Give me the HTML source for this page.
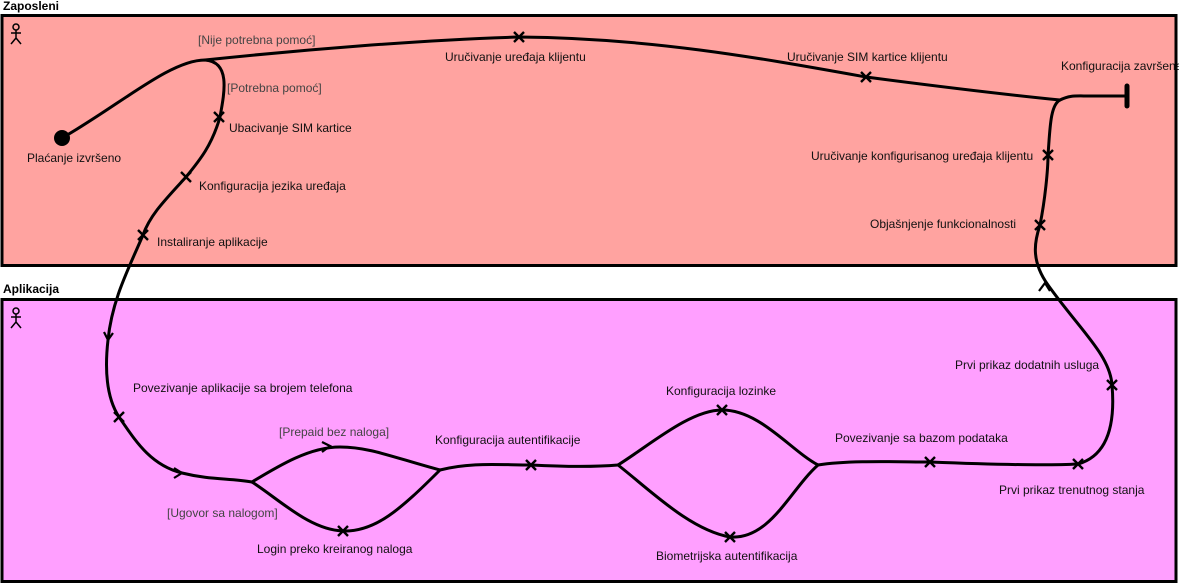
<!DOCTYPE html>
<html><head><meta charset="utf-8"><style>
html,body{margin:0;padding:0;background:#fff;}
svg{display:block;}
text{font-family:"Liberation Sans",sans-serif;font-size:12px;fill:#111;}
.g{fill:#444;}
.t{font-weight:bold;font-size:12px;fill:#000;}
</style></head><body>
<svg width="1179" height="585" viewBox="0 0 1179 585" xmlns="http://www.w3.org/2000/svg">
<text class="t" x="3" y="10">Zaposleni</text>
<rect x="2" y="15.5" width="1174" height="250" fill="#ffa3a0" stroke="#000" stroke-width="3"/>
<text class="t" x="3" y="293">Aplikacija</text>
<rect x="2" y="299.5" width="1174" height="282" fill="#ff9fff" stroke="#000" stroke-width="3"/>
<g stroke="#000" stroke-width="1.5" fill="none">
<circle cx="16" cy="27" r="3"/><path d="M16 30v8M11 33h10M16 38l-5 6M16 38l5 6"/>
<circle cx="16" cy="311" r="3"/><path d="M16 314v8M11 317h10M16 322l-5 6M16 322l5 6"/>
</g>
<g stroke="#000" stroke-width="3" fill="none" stroke-linecap="round">
<path d="M62 138 C120 105 170 60 205 60 C230 62 225 90 220 117 C212 145 200 160 186 177 C165 200 150 215 143 235 C128 270 112 300 108 340 C104 375 108 400 119 417 C135 440 150 465 182 473 C210 480 230 478 252 482"/>
<path d="M205 60 C300 50 420 40 519 37 C650 38 760 58 866 77 C950 88 1010 95 1060 100 C1070 95 1075 96 1090 96 L1127 96"/>
<path d="M1127 86 V106" stroke-width="5"/>
<path d="M252 482 C280 465 310 447 340 447 C370 447 395 458 440 470 C470 462 500 465 531 465 C570 467 595 467 618 465 C650 445 690 410 722 410 C760 410 790 450 818 465 C850 460 900 462 930 462 C980 464 1040 466 1078 464 C1110 455 1115 420 1112 385 C1110 355 1080 330 1048 285 C1030 260 1035 240 1040 225 C1045 200 1048 170 1048 155 C1050 130 1050 105 1060 100"/>
<path d="M252 482 C280 500 310 530 343 531 C375 532 400 510 440 470"/>
<path d="M618 465 C650 490 690 530 730 537 C770 540 790 490 818 465"/>
</g>
<circle cx="62" cy="138" r="8" fill="#000"/>
<g stroke="#000" stroke-width="2.2" fill="none">
<path d="M104 332l4 8 5-7"/>
<path d="M174 468l8 5-8 5"/>
<path d="M322 442l8 4-8 6"/>
<path d="M1039 291l6-8 5 8"/>
</g>
<g stroke="#000" stroke-width="2.4">
<path d="M514 32l10 10M524 32l-10 10"/>
<path d="M861 72l10 10M871 72l-10 10"/>
<path d="M214 112l10 10M224 112l-10 10"/>
<path d="M181 172l10 10M191 172l-10 10"/>
<path d="M138 230l10 10M148 230l-10 10"/>
<path d="M1043 150l10 10M1053 150l-10 10"/>
<path d="M1035 220l10 10M1045 220l-10 10"/>
<path d="M114 412l10 10M124 412l-10 10"/>
<path d="M338 526l10 10M348 526l-10 10"/>
<path d="M526 460l10 10M536 460l-10 10"/>
<path d="M717 405l10 10M727 405l-10 10"/>
<path d="M725 532l10 10M735 532l-10 10"/>
<path d="M925 457l10 10M935 457l-10 10"/>
<path d="M1073 459l10 10M1083 459l-10 10"/>
<path d="M1107 380l10 10M1117 380l-10 10"/>
</g>
<text class="g" x="198" y="44">[Nije potrebna pomoć]</text>
<text class="g" x="227" y="92">[Potrebna pomoć]</text>
<text x="229" y="132">Ubacivanje SIM kartice</text>
<text x="27" y="162">Plaćanje izvršeno</text>
<text x="199" y="190">Konfiguracija jezika uređaja</text>
<text x="157" y="246">Instaliranje aplikacije</text>
<text x="445" y="61">Uručivanje uređaja klijentu</text>
<text x="787" y="61">Uručivanje SIM kartice klijentu</text>
<text x="1061" y="70">Konfiguracija završena</text>
<text x="811" y="160">Uručivanje konfigurisanog uređaja klijentu</text>
<text x="870" y="228">Objašnjenje funkcionalnosti</text>
<text x="133" y="392">Povezivanje aplikacije sa brojem telefona</text>
<text class="g" x="279" y="436">[Prepaid bez naloga]</text>
<text x="435" y="444">Konfiguracija autentifikacije</text>
<text x="666" y="395">Konfiguracija lozinke</text>
<text x="835" y="442">Povezivanje sa bazom podataka</text>
<text x="955" y="369">Prvi prikaz dodatnih usluga</text>
<text x="999" y="494">Prvi prikaz trenutnog stanja</text>
<text class="g" x="167" y="517">[Ugovor sa nalogom]</text>
<text x="257" y="553">Login preko kreiranog naloga</text>
<text x="656" y="560">Biometrijska autentifikacija</text>
</svg>
</body></html>
